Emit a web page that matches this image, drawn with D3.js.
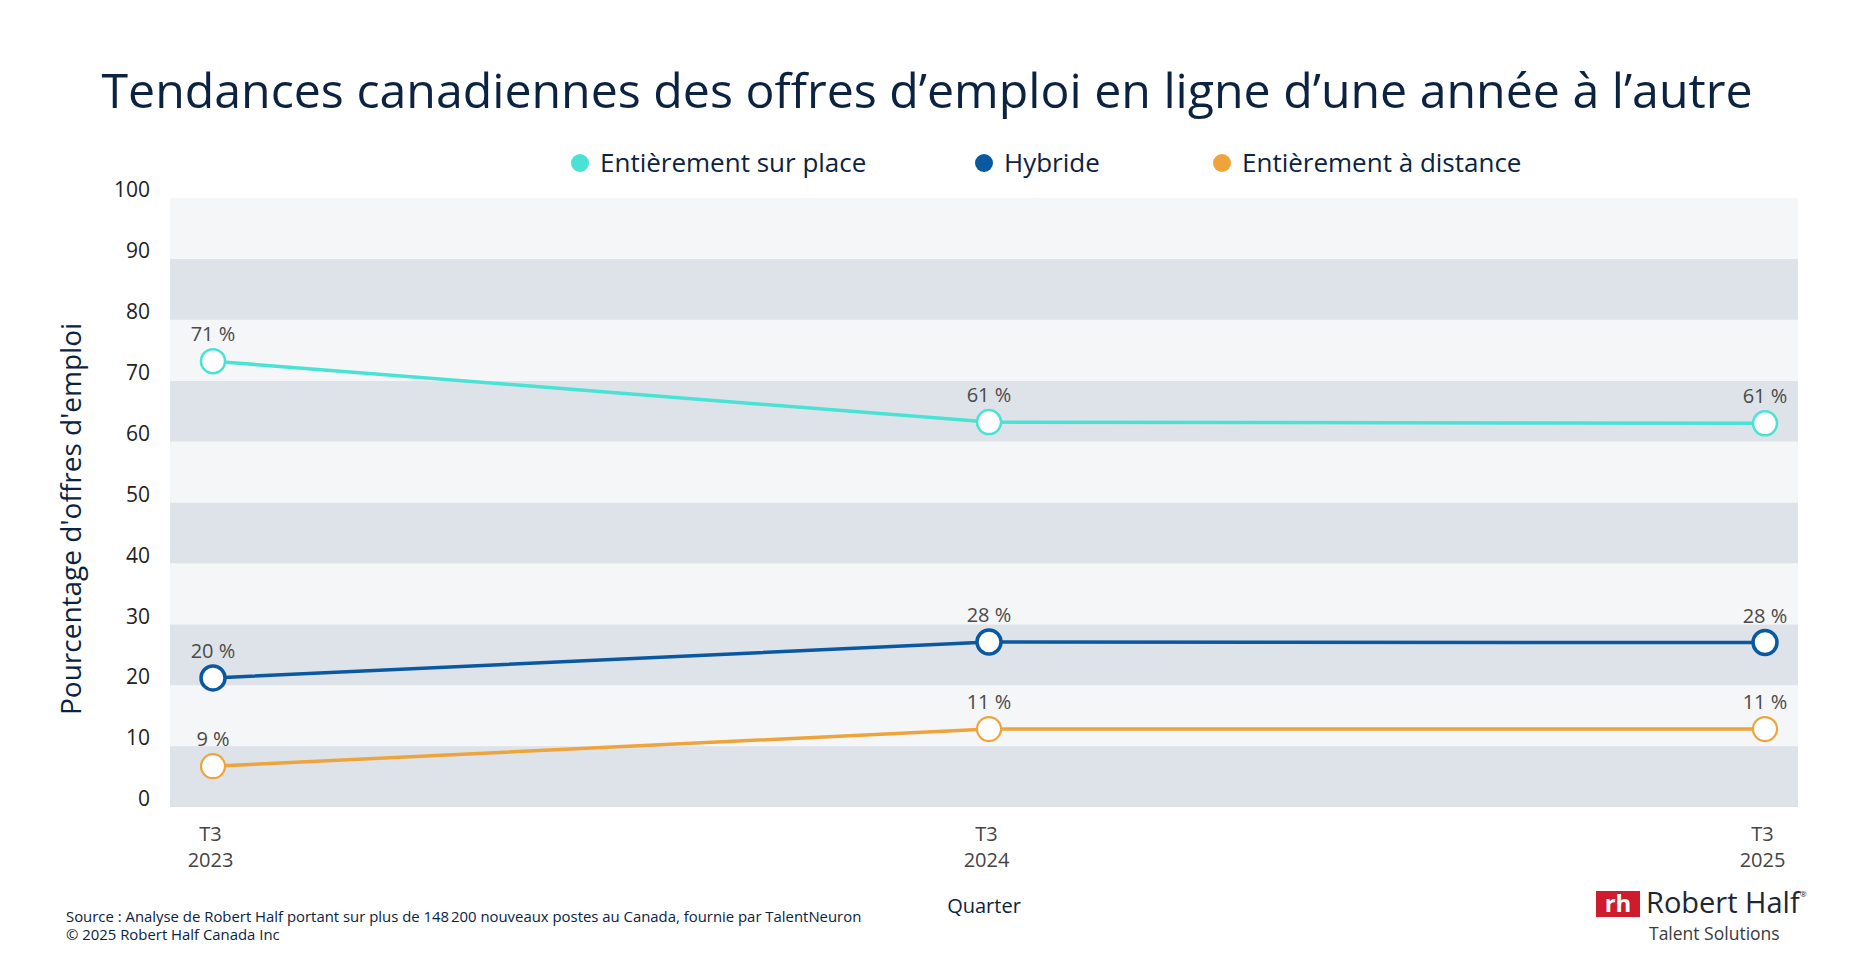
<!DOCTYPE html>
<html lang="fr">
<head>
<meta charset="utf-8">
<script src="https://cdn.jsdelivr.net/npm/d3@7"></script>
<style>
  body { margin: 0; background: #fff; }
  svg { display: block; font-family: "Open Sans", "Noto Sans", sans-serif; }
</style>
</head>
<body>
<script>
// Data
const quarters = ["T3 2023", "T3 2024", "T3 2025"];
const seriesNames = ["Entièrement sur place", "Hybride", "Entièrement à distance"];
const onSite = [73.2, 63.2, 63.0];
const hybrid = [21.2, 27.1, 27.0];
const remote = [6.7, 12.8, 12.8];
const onSiteLabels = ["71 %", "61 %", "61 %"];
const hybridLabels = ["20 %", "28 %", "28 %"];
const remoteLabels = ["9 %", "11 %", "11 %"];
const yTicks = [0, 10, 20, 30, 40, 50, 60, 70, 80, 90, 100];

const colors = ["#48e3d4", "#0a589f", "#eea43b"];
const ringWidth = [2.5, 3.5, 2.2];
const navy = "#0b2341";

const series = [
  { name: seriesNames[0], values: onSite, labels: onSiteLabels },
  { name: seriesNames[1], values: hybrid, labels: hybridLabels },
  { name: seriesNames[2], values: remote, labels: remoteLabels },
];

const width = 1854, height = 970;
const plot = { left: 170, right: 1798, top: 198, bottom: 807 };

const svg = d3.select("body").append("svg").attr("width", width).attr("height", height);
svg.append("rect").attr("width", width).attr("height", height).attr("fill", "#fff");

const x = d3.scalePoint().domain(quarters).range([213, 1765]);
const y = d3.scaleLinear().domain([0, 100]).range([plot.bottom, plot.top]);

// Title
svg.append("text")
  .attr("x", 927).attr("y", 108)
  .attr("text-anchor", "middle")
  .attr("font-size", 48.25)
  .attr("fill", navy)
  .text("Tendances canadiennes des offres d’emploi en ligne d’une année à l’autre");

// Legend
const legendX = [580, 984, 1222];
const legend = svg.append("g").selectAll("g")
  .data(series)
  .join("g")
  .attr("transform", (d, i) => `translate(${legendX[i]},163)`);
legend.append("circle").attr("r", 9).attr("fill", (d, i) => colors[i]);
legend.append("text")
  .attr("x", 20).attr("y", 9)
  .attr("font-size", 26)
  .attr("fill", navy)
  .text(d => d.name);

// Alternating bands
const bands = d3.range(0, 100, 10);
svg.append("g").selectAll("rect")
  .data(bands)
  .join("rect")
  .attr("x", plot.left)
  .attr("width", plot.right - plot.left)
  .attr("y", d => y(d + 10))
  .attr("height", d => y(d) - y(d + 10))
  .attr("fill", d => (d / 10) % 2 === 0 ? "#dee3ea" : "#f4f6f8");

// Y axis
const yAxis = svg.append("g")
  .attr("transform", `translate(${plot.left},0)`)
  .call(d3.axisLeft(y).tickValues(yTicks).tickSize(0).tickPadding(20));
yAxis.select(".domain").remove();
yAxis.selectAll("text")
  .attr("y", -8)
  .attr("font-size", 21)
  .attr("font-family", "Open Sans")
  .attr("fill", "#222");

svg.append("text")
  .attr("transform", "translate(81,519) rotate(-90)")
  .attr("text-anchor", "middle")
  .attr("font-size", 28)
  .attr("fill", navy)
  .text("Pourcentage d'offres d'emploi");

// X axis with two-line labels
const xAxis = svg.append("g")
  .attr("transform", `translate(0,${plot.bottom})`)
  .call(d3.axisBottom(x).tickSize(0).tickFormat(""));
xAxis.select(".domain").remove();
xAxis.selectAll(".tick text").each(function (d) {
  const parts = d.split(" ");
  const t = d3.select(this)
    .attr("y", 0).attr("dy", null)
    .attr("font-size", 20)
    .attr("font-family", "Open Sans")
    .attr("fill", "#444");
  t.append("tspan").attr("x", -3).attr("y", 34).text(parts[0]);
  t.append("tspan").attr("x", -3).attr("y", 60).text(parts[1]);
});

svg.append("text")
  .attr("x", 984).attr("y", 913)
  .attr("text-anchor", "middle")
  .attr("font-size", 20)
  .attr("fill", navy)
  .text("Quarter");

// Lines
const line = d3.line().x((d, i) => x(quarters[i])).y(d => y(d));
svg.append("g").selectAll("path")
  .data(series)
  .join("path")
  .attr("d", d => line(d.values))
  .attr("fill", "none")
  .attr("stroke", (d, i) => colors[i])
  .attr("stroke-width", 3.5);

// Points and value labels
series.forEach((s, si) => {
  const g = svg.append("g");
  g.selectAll("circle")
    .data(s.values)
    .join("circle")
    .attr("cx", (d, i) => x(quarters[i]))
    .attr("cy", d => y(d))
    .attr("r", 12)
    .attr("fill", "#fff")
    .attr("stroke", colors[si])
    .attr("stroke-width", ringWidth[si]);
  g.selectAll("text")
    .data(s.values)
    .join("text")
    .attr("x", (d, i) => x(quarters[i]))
    .attr("y", d => y(d) - 20)
    .attr("text-anchor", "middle")
    .attr("font-size", 20)
    .attr("fill", "#4a4a4a")
    .text((d, i) => s.labels[i]);
});

// Source
const source = svg.append("text").attr("font-size", 14.9).attr("fill", navy);
source.append("tspan").attr("x", 66).attr("y", 922)
  .text("Source : Analyse de Robert Half portant sur plus de 148\u202F200 nouveaux postes au Canada, fournie par TalentNeuron");
source.append("tspan").attr("x", 66).attr("y", 940)
  .text("© 2025 Robert Half Canada Inc");

// Logo
const logo = svg.append("g");
logo.append("rect").attr("x", 1596).attr("y", 891).attr("width", 44).attr("height", 26).attr("fill", "#ce1b2e");
logo.append("text").attr("x", 1618).attr("y", 912).attr("text-anchor", "middle")
  .attr("font-size", 24).attr("font-weight", 700).attr("fill", "#fff").text("rh");
logo.append("text").attr("x", 1646).attr("y", 913)
  .attr("font-size", 29).attr("fill", "#1d2733").text("Robert Half");
logo.append("text").attr("x", 1800).attr("y", 897)
  .attr("font-size", 8).attr("fill", "#1d2733").text("®");
logo.append("text").attr("x", 1649).attr("y", 939.5)
  .attr("font-size", 17.5).attr("fill", "#3a3a3a").text("Talent Solutions");
</script>
</body>
</html>
